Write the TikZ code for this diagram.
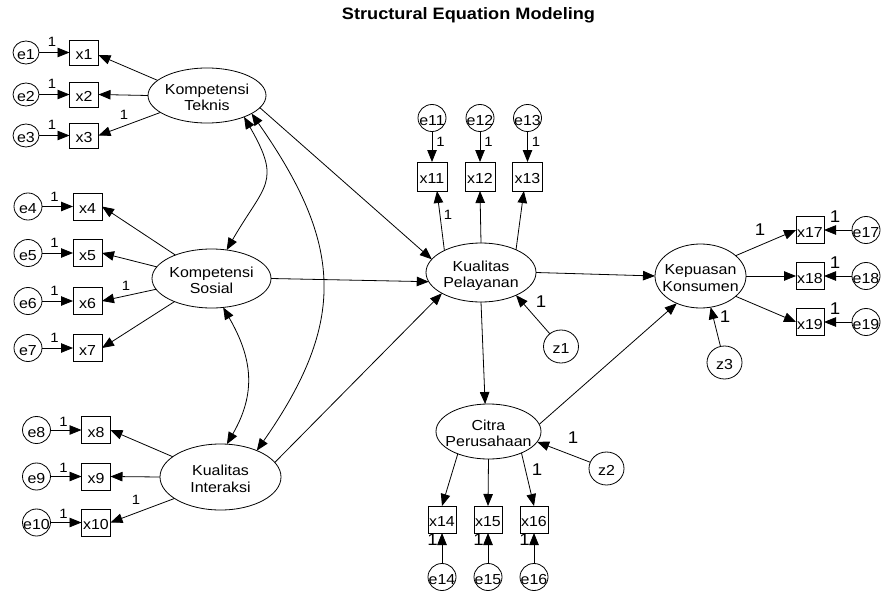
\documentclass[tikz,border=0pt]{standalone}
\usepackage{fontspec}
\setmainfont{Liberation Sans}[FakeStretch=1.1]
\usetikzlibrary{arrows.meta,shapes.geometric}
% zero-width text so that the shapes keep their own sizes
\newcommand\zw[1]{\makebox[0pt]{#1}}
\newcommand\twoline[2]{\zw{\rule{0pt}{18.4pt}#1}\\\zw{#2\rule[-4pt]{0pt}{0pt}}}
\begin{document}
\begin{tikzpicture}[x=1pt,y=1pt,
  every node/.style={outer sep=0pt, inner sep=0pt},
  ln/.style={line width=0.8pt},
  tip/.tip={Triangle[length=12pt,width=9.5pt]},
  arr/.style={ln, -tip},
  cov/.style={ln, tip-tip},
  latent/.style={draw, ln, ellipse, align=center, font=\fontsize{14.5}{16.5}\selectfont},
  obs/.style={draw, ln, rectangle, minimum width=29pt, minimum height=27pt,
    font=\fontsize{14.5}{16}\selectfont, text height=14.4pt, text depth=0pt},
  err/.style={draw, ln, ellipse, minimum width=28pt, minimum height=27pt,
    font=\fontsize{14.5}{16}\selectfont, text height=14.4pt, text depth=0pt},
  dist/.style={err, minimum width=35pt, minimum height=33pt},
  one/.style={font=\fontsize{13.5}{13.5}\selectfont},
  bigone/.style={font=\fontsize{17}{17}\selectfont},
]
\fill[white] (0,0) rectangle (883,-591);
\useasboundingbox (0,0) rectangle (883,-591);

\node[font=\bfseries\fontsize{16.5}{16.5}\selectfont, anchor=base] (title) at (468.5,-19.5) {Structural Equation Modeling};

% latent variables
\node[latent, minimum width=118pt, minimum height=54pt] (KT) at (207,-95.5) {\twoline{Kompetensi}{Teknis}};
\node[latent, minimum width=119pt, minimum height=59pt] (KS) at (211.5,-278.5) {\twoline{Kompetensi}{Sosial}};
\node[latent, minimum width=121pt, minimum height=66pt] (KI) at (220.5,-477) {\twoline{Kualitas}{Interaksi}};
\node[latent, minimum width=110pt, minimum height=59pt] (KP) at (481,-272.5) {\twoline{Kualitas}{Pelayanan}};
\node[latent, minimum width=105pt, minimum height=55pt] (CP) at (488.5,-431.5) {\twoline{Citra}{Perusahaan}};
\node[latent, minimum width=91pt, minimum height=64pt] (KK) at (700.5,-276) {\twoline{Kepuasan}{Konsumen}};

% indicators and their errors
\foreach \i/\y in {1/-52.5,2/-94.5,3/-135.5}{
  \node[obs, minimum height=25pt] (x\i) at (84,\y) {x\i};
  \node[err, minimum width=26pt, minimum height=23pt] (e\i) at (26,\y) {\zw{e\i}};
  \draw[arr] (e\i) -- (x\i);
  \node[one] (o\i) at (52,\y+10.5) {1};
}
\foreach \i/\y in {4/-206.5,5/-253,6/-301,7/-348}{
  \node[obs] (x\i) at (87.5,\y) {x\i};
  \node[err] (e\i) at (28,\y) {\zw{e\i}};
  \draw[arr] (e\i) -- (x\i);
  \node[one] (o\i) at (54.5,\y+10) {1};
}
\foreach \i/\y in {8/-430,9/-476.5,10/-522.5}{
  \node[obs] (x\i) at (96,\y) {\zw{x\i}};
  \node[err] (e\i) at (36.5,\y) {\zw{e\i}};
  \draw[arr] (e\i) -- (x\i);
  \node[one] (o\i) at (63.5,\y+8.5) {1};
}
\foreach \i/\x in {11/432,12/480,13/527.5}{
  \node[obs, minimum width=30pt, minimum height=29pt] (x\i) at (\x,-176.5) {\zw{x\i}};
  \node[err] (e\i) at (\x,-118) {\zw{e\i}};
  \draw[arr] (e\i) -- (x\i);
  \node[one] (o\i) at (\x+8.5,-142) {1};
}
\foreach \i/\x in {14/442,15/488,16/534}{
  \node[obs, minimum width=28pt] (x\i) at (\x,-519.5) {\zw{x\i}};
  \node[err] (e\i) at (\x,-577) {\zw{e\i}};
  \draw[arr] (e\i) -- (x\i);
  \node[bigone] (o\i) at (\x-9.5,-540) {1};
}
\foreach \i/\y in {17/-230,18/-276,19/-322}{
  \node[obs, minimum width=28pt] (x\i) at (810,\y) {\zw{x\i}};
  \node[err] (e\i) at (866,\y) {\zw{e\i}};
  \draw[arr] (e\i) -- (x\i);
  \node[bigone] (o\i) at (835,\y+13) {1};
}

% disturbances
\node[dist] (z1) at (561,-346.5) {\zw{z1}};
\node[dist] (z2) at (606.5,-468.5) {\zw{z2}};
\node[dist] (z3) at (724.5,-362.5) {\zw{z3}};

% loadings
\draw[arr] (KT.163) -- (x1.-10);
\draw[arr] (KT.west) -- (x2.east);
\draw[arr] (KT.200) -- (x3.east);
\draw[arr] (KS.147.5) -- (x4.east);
\draw[arr] (KS.168.5) -- (x5.east);
\draw[arr] (KS.191.5) -- (x6.east);
\draw[arr] (KS.212.5) -- (x7.east);
\draw[arr] (KI.157.6) -- (x8.east);
\draw[arr] (KI.west) -- (x9.east);
\draw[arr] (KI.205) -- (x10.east);
\draw[arr] (KP.149) -- (x11.-71);
\draw[arr] (KP.north) -- (x12.south);
\draw[arr] (KP.33) -- (x13.-104);
\draw[arr] (CP.216) -- (x14.north);
\draw[arr] (CP.south) -- (x15.north);
\draw[arr] (CP.-33) -- (x16.north);
\draw[arr] (KK.30) -- (x17.west);
\draw[arr] (KK.east) -- (x18.west);
\draw[arr] (KK.-30) -- (x19.west);

% structural paths
\draw[arr] (KT.-13) -- (KP.165);
\draw[arr] (KS.east) -- (KP.190);
\draw[arr] (KI.15) -- (KP.208);
\draw[arr] (KP.east) -- (KK.west);
\draw[arr] (KP.south) -- (CP.97);
\draw[arr] (CP.8) -- (KK.229);
\draw[arr] (z1) -- (KP.-33);
\draw[arr] (z2) -- (CP.-12);
\draw[arr] (z3) -- (KK.-72);

% covariances
\draw[cov] (KT.-30) to[out=-60,in=60,looseness=1.45] (KS.62);
\draw[cov] (KS.-68) to[out=-60,in=60,looseness=1.1] (KI.79);
\draw[cov] (KT.-22) to[out=-55,in=55,looseness=1.2] (KI.36);

% fixed parameters
\node[one] (lx3) at (124,-115) {1};
\node[one] (lx6) at (126,-285.5) {1};
\node[one] (lx10) at (136,-500) {1};
\node[one] (lx11) at (448,-215) {1};
\node[bigone] (lx16) at (537,-470) {1};
\node[bigone] (lx17) at (760,-230) {1};
\node[bigone] (lz1) at (541,-302) {1};
\node[bigone] (lz2) at (573,-438) {1};
\node[bigone] (lz3) at (725,-317) {1};
\end{tikzpicture}
\end{document}
